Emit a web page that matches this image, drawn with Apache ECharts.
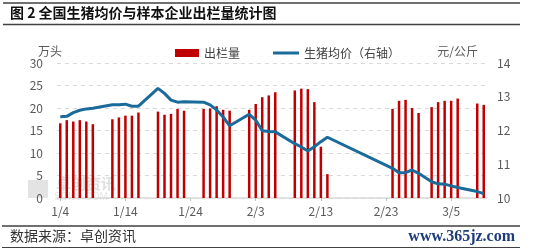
<!DOCTYPE html>
<html>
<head>
<meta charset="utf-8">
<script src="https://cdn.jsdelivr.net/npm/echarts@6/dist/echarts.min.js"></script>
<style>
html,body{margin:0;padding:0;background:#fff;}
#c{width:535px;height:252px;}
</style>
</head>
<body>
<div id="c"></div>
<script>
// Calendar days 1/4 .. 3/10
var dates = ['1/4','1/5','1/6','1/7','1/8','1/9','1/10','1/11','1/12','1/13','1/14','1/15','1/16','1/17','1/18','1/19','1/20','1/21','1/22','1/23','1/24','1/25','1/26','1/27','1/28','1/29','1/30','1/31','2/1','2/2','2/3','2/4','2/5','2/6','2/7','2/8','2/9','2/10','2/11','2/12','2/13','2/14','2/15','2/16','2/17','2/18','2/19','2/20','2/21','2/22','2/23','2/24','2/25','2/26','2/27','2/28','3/1','3/2','3/3','3/4','3/5','3/6','3/7','3/8','3/9','3/10'];
// 出栏量 (万头)
var volume = [16.6,17.3,17.0,17.3,17.0,16.4,null,null,17.5,17.9,18.3,18.3,19.0,null,null,19.2,18.5,18.7,19.8,19.4,null,null,19.8,19.9,20.4,19.6,19.4,null,null,19.6,20.9,22.4,22.8,23.5,null,null,23.9,24.3,24.2,21.3,11.4,5.3,null,null,null,null,null,null,null,null,null,19.8,21.6,21.8,20.0,18.9,null,20.2,21.3,21.6,21.6,22.1,null,null,21.0,20.7];
// 生猪均价 (元/公斤)
var price = [12.41,12.42,12.53,12.60,12.64,12.66,null,null,12.76,12.76,12.78,12.72,12.72,null,null,13.25,13.10,12.90,12.84,12.85,null,null,12.84,12.76,12.61,12.40,12.14,null,null,12.48,12.31,11.99,11.97,11.96,null,null,11.61,11.51,11.39,11.52,11.67,11.80,null,null,null,null,null,null,null,null,null,10.88,10.75,10.75,10.83,10.73,null,10.48,10.42,10.41,10.36,10.31,null,null,10.19,10.13];

var chart = echarts.init(document.getElementById('c'), null, {renderer:'canvas'});
var labelColor = '#595959';
var ff = '"Noto Sans CJK SC", "Noto Sans", sans-serif';
var lineColor = '#1B6B9A';
chart.setOption({
  animation:false,
  textStyle:{fontFamily:ff},
  grid:{left:57,right:48,top:63,bottom:54,containLabel:false},
  legend:[{
    left:170, top:42, itemWidth:24, itemHeight:8,
    textStyle:{color:'#404040',fontSize:12,fontFamily:ff},
    data:[{name:'出栏量',icon:'rect'}]
  },{
    left:268, top:42, itemWidth:26, itemHeight:3,
    textStyle:{color:'#404040',fontSize:12,fontFamily:ff},
    data:[{name:'生猪均价（右轴）',icon:'rect'}]
  }],
  xAxis:{
    type:'category', data:dates, boundaryGap:true,
    axisLine:{lineStyle:{color:'#D9D9D9',width:1.5}},
    axisTick:{show:true,interval:9,alignWithLabel:true,length:3,lineStyle:{color:'#BFBFBF'}},
    axisLabel:{interval:9,color:labelColor,fontSize:12,margin:7,fontFamily:ff}
  },
  yAxis:[{
    type:'value', min:0, max:30, interval:5,
    name:'万头', nameLocation:'end', nameGap:6,
    nameTextStyle:{color:labelColor,fontSize:12,align:'center',padding:[0,14,0,0]},
    axisLine:{show:false}, axisTick:{show:false},
    axisLabel:{color:labelColor,fontSize:12,margin:14},
    splitLine:{lineStyle:{color:'#D9D9D9',type:[4,4],width:1}}
  },{
    type:'value', min:10, max:14, interval:1,
    name:'元/公斤', nameLocation:'end', nameGap:6,
    nameTextStyle:{color:labelColor,fontSize:12,align:'right',padding:[0,9,0,0]},
    axisLine:{show:false}, axisTick:{show:false},
    axisLabel:{color:labelColor,fontSize:12,margin:10},
    splitLine:{show:false}
  }],
  series:[{
    name:'出栏量', type:'bar', data:volume, barWidth:2.5, yAxisIndex:0,
    itemStyle:{color:'#C00000'}, z:3
  },{
    name:'生猪均价（右轴）', type:'line', data:price, yAxisIndex:1,
    connectNulls:true, symbol:'none', showSymbol:false, smooth:false,
    lineStyle:{color:lineColor,width:3}, itemStyle:{color:lineColor}, z:4
  }],
  graphic:[
    {type:'line',shape:{x1:3,y1:3,x2:520,y2:3},style:{stroke:'#404040',lineWidth:1.5},silent:true},
    {type:'line',shape:{x1:3,y1:24.5,x2:520,y2:24.5},style:{stroke:'#404040',lineWidth:1.5},silent:true},
    {type:'text',left:10,top:6,style:{text:'图 2 全国生猪均价与样本企业出栏量统计图',fill:'#111',font:'bold 14px '+ff}},
    {type:'line',shape:{x1:2,y1:226,x2:520,y2:226},style:{stroke:'#404040',lineWidth:1.5},silent:true},
    {type:'line',shape:{x1:2,y1:247.5,x2:520,y2:247.5},style:{stroke:'#404040',lineWidth:1},silent:true},
    {type:'text',left:10,top:229,style:{text:'数据来源：卓创资讯',fill:'#333',font:'14px '+ff}},
    {type:'text',right:20,top:229,style:{text:'www.365jz.com',fill:'#1F3D7A',font:'bold 16px "Liberation Serif", serif'}},
    {type:'rect',z:-1,shape:{x:28,y:180,width:20,height:18},style:{fill:'#E3E3E3'},silent:true},
    {type:'text',z:-1,left:56,top:176,style:{text:'卓创资讯',fill:'#E0E0E0',font:'bold 15px '+ff}},
    {type:'text',z:-1,left:54,top:192,style:{text:'SCI99.COM',fill:'#E6E6E6',font:'10px "Liberation Sans", sans-serif'}}
  ]
});
</script>
</body>
</html>
